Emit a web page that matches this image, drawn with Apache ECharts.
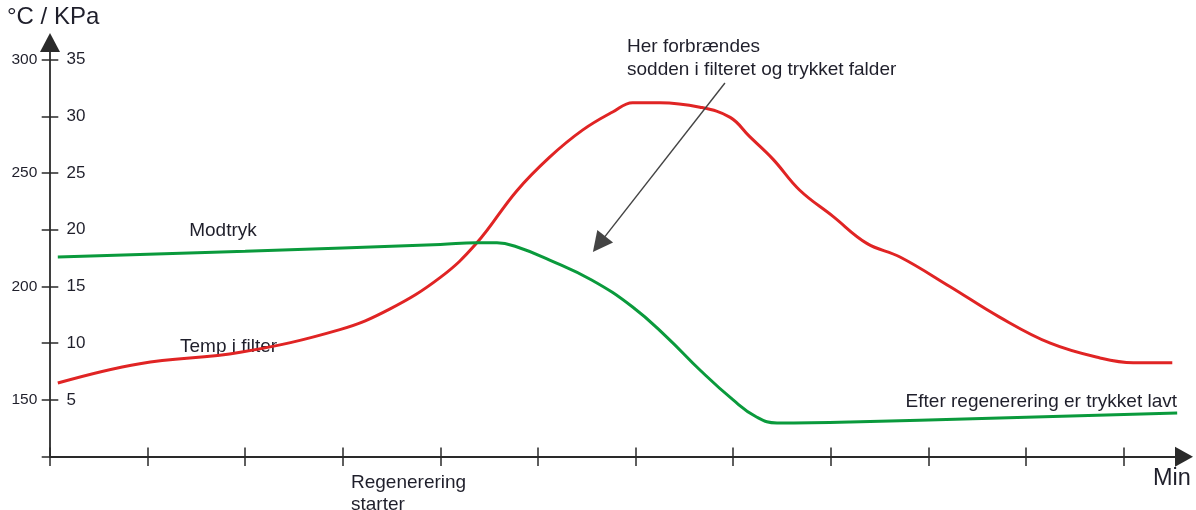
<!DOCTYPE html>
<html>
<head>
<meta charset="utf-8">
<script src="https://cdn.jsdelivr.net/npm/echarts@6/dist/echarts.min.js"></script>
<style>
html,body{margin:0;padding:0;background:#fff;}
#chart{width:1196px;height:510px;}
</style>
</head>
<body>
<div id="chart"></div>
<script>
// ---- data (x in minutes-units) ----
const tempMinutes = [0.08,0.92,1.95,2.97,3.48,4.0,4.37,4.78,5.12,5.46,5.77,5.97,6.25,6.66,6.97,7.17,7.41,7.68,8.02,8.37,8.71,9.22,9.73,10.25,10.76,11.1,11.5];
const tempValues  = [157.5,166,171,181,190,204,219,242,257,269,277,281,281,279,274.5,266,256,242.5,231,219,213,200,186.5,175,168.5,166.4,166.4];
const pressMinutes = [0.08,2.0,4.0,4.37,4.58,4.78,5.12,5.55,5.97,6.32,6.66,7.0,7.24,7.45,8.2,11.55];
const pressValues  = [17.6,18.1,18.7,18.85,18.85,18.5,17.33,15.57,13.19,10.54,7.64,5.0,3.5,2.97,3.06,3.85];

const xTicks = [0,1,2,3,4,5,6,7,8,9,10,11];
const kpaTicks = [0,5,10,15,20,25,30,35];
const kpaLabels = [5,10,15,20,25,30,35];
const tempTicks = [125,150,175,200,225,250,275,300];
const tempLabels = [150,200,250,300];

const arrowFrom = [6.916, 32.93];
const arrowTo = [5.626, 18.73];

const zip = (a,b) => a.map((v,i)=>[v,b[i]]);

const AX = '#2a2a2a';
const CLEAR = 'rgba(0,0,0,0)';
const TXT = '#1f1f2b';
const FONT = '"Liberation Sans", Arial, sans-serif';
const X_MAX = 11.62, KPA_MAX = 36.5, TEMP_MAX = 125 + 5*36.5;
const TICK_Y = 8.3, TICK_X = 9.3;
const G = {left:50, right:12, top:42.5, bottom:53.3};

const hiddenX = (gi) => ({type:'value', gridIndex:gi, min:0, max:X_MAX, show:false});
const hiddenY = (gi) => ({type:'value', gridIndex:gi, min:0, max:KPA_MAX, show:false});

const chart = echarts.init(document.getElementById('chart'), null, {renderer:'canvas'});
chart.setOption({
  animation:false,
  backgroundColor:'#fff',
  grid:[
    {left:G.left, right:G.right, top:G.top, bottom:G.bottom},
    {left:G.left + TICK_Y, right:G.right, top:G.top, bottom:G.bottom},
    {left:G.left, right:G.right, top:G.top, bottom:G.bottom + TICK_X}
  ],
  xAxis:[
    {type:'value', gridIndex:0, min:0, max:X_MAX, position:'bottom',
     axisLine:{show:true, symbol:['none','triangle'], symbolSize:[20,18], lineStyle:{color:AX, width:1.8}},
     axisTick:{show:true, inside:false, length:TICK_X, customValues:xTicks, lineStyle:{color:AX, width:1.5}},
     axisLabel:{show:false}, splitLine:{show:false}},
    hiddenX(1),
    {type:'value', gridIndex:2, min:0, max:X_MAX, position:'bottom',
     axisLine:{show:true, lineStyle:{color:CLEAR, width:1}},
     axisTick:{show:true, inside:false, length:TICK_X, customValues:xTicks, lineStyle:{color:AX, width:1.5}},
     axisLabel:{show:false}, splitLine:{show:false}}
  ],
  yAxis:[
    {type:'value', gridIndex:0, min:125, max:TEMP_MAX, position:'left',
     axisLine:{show:true, symbol:['none','triangle'], symbolSize:[20,19], lineStyle:{color:AX, width:1.8}},
     axisTick:{show:true, inside:false, length:TICK_Y, customValues:tempTicks, lineStyle:{color:AX, width:1.5}},
     axisLabel:{show:true, inside:false, margin:12.7, customValues:tempLabels, color:TXT, fontSize:15.5, fontFamily:FONT},
     splitLine:{show:false}},
    hiddenY(0),
    {type:'value', gridIndex:1, min:0, max:KPA_MAX, position:'left',
     axisLine:{show:true, lineStyle:{color:CLEAR, width:1}},
     axisTick:{show:true, inside:false, length:TICK_Y, customValues:kpaTicks, lineStyle:{color:AX, width:1.5}},
     axisLabel:{show:true, inside:true, margin:8.2, customValues:kpaLabels, color:TXT, fontSize:17, fontFamily:FONT},
     splitLine:{show:false}},
    hiddenY(2)
  ],
  series:[
    {name:'Temp i filter', type:'line', xAxisIndex:0, yAxisIndex:0, data:zip(tempMinutes,tempValues),
     showSymbol:false, smooth:0.4,
     lineStyle:{color:'#e02424', width:3}, itemStyle:{color:'#e02424'}},
    {name:'Modtryk', type:'line', xAxisIndex:0, yAxisIndex:1, data:zip(pressMinutes,pressValues),
     showSymbol:false, smooth:0.45,
     lineStyle:{color:'#0a9a3c', width:3}, itemStyle:{color:'#0a9a3c'},
     markLine:{silent:true, symbol:['none','triangle'], symbolSize:20, animation:false,
       lineStyle:{color:'#444', width:1.4, type:'solid'}, itemStyle:{color:'#111'},
       label:{show:false}, emphasis:{disabled:true},
       data:[[{coord:arrowFrom},{coord:arrowTo}]]}}
  ],
  graphic:[
    {type:'text', x:7, y:17, style:{text:'°C / KPa', font:'24px '+FONT, fill:TXT, align:'left', verticalAlign:'middle'}},
    {type:'text', x:1153, y:479, style:{text:'Min', font:'23.5px '+FONT, fill:TXT, align:'left', verticalAlign:'middle'}},
    {type:'text', x:627, y:35, style:{text:'Her forbrændes\nsodden i filteret og trykket falder', font:'19px '+FONT, lineHeight:23.5, fill:TXT, align:'left', verticalAlign:'top'}},
    {type:'text', x:223, y:231, style:{text:'Modtryk', font:'19px '+FONT, fill:TXT, align:'center', verticalAlign:'middle'}},
    {type:'text', x:180, y:347, style:{text:'Temp i filter', font:'19px '+FONT, fill:TXT, align:'left', verticalAlign:'middle'}},
    {type:'text', x:1177, y:402, style:{text:'Efter regenerering er trykket lavt', font:'19px '+FONT, fill:TXT, align:'right', verticalAlign:'middle'}},
    {type:'text', x:351, y:472, style:{text:'Regenerering\nstarter', font:'19px '+FONT, lineHeight:22, fill:TXT, align:'left', verticalAlign:'top'}}
  ]
});
</script>
</body>
</html>
